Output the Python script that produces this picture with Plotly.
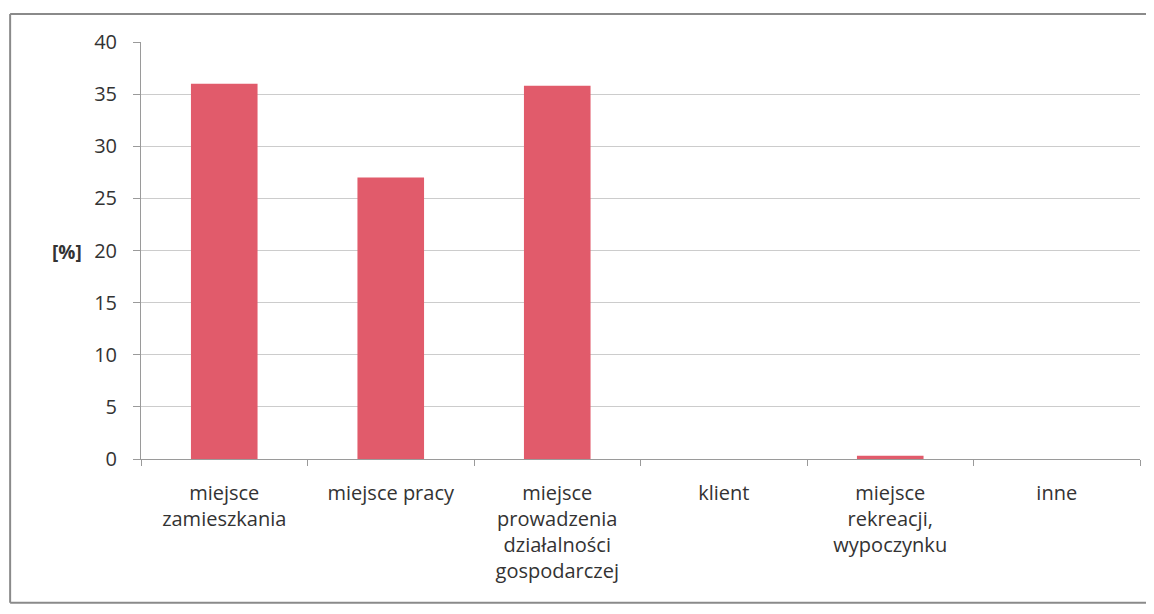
import plotly.graph_objects as go

# kategorie i wartosci [%]
categories = ["miejsce<br>zamieszkania", "miejsce pracy",
              "miejsce<br>prowadzenia<br>działalności<br>gospodarczej",
              "klient", "miejsce<br>rekreacji,<br>wypoczynku", "inne"]
values = [36.0, 27.0, 35.8, 0.0, 0.3, 0.0]
y_ticks = [0, 5, 10, 15, 20, 25, 30, 35, 40]

fig = go.Figure()

fig.add_trace(go.Bar(x=categories, y=values, width=0.4,
                     marker=dict(color="#E15B6B", line=dict(width=0))))

# strona ma 8px marginesu, wiec figura jest odpowiednio mniejsza
fig.update_layout(
    width=1146, height=598,
    margin=dict(l=133, r=14, t=34, b=147),
    paper_bgcolor="white", plot_bgcolor="white",
    font=dict(family="Open Sans, sans-serif", size=20, color="#333333"),
    showlegend=False,
    bargap=0.6,
)

fig.update_xaxes(
    showline=True, linecolor="#9a9a9a", linewidth=1,
    ticks="outside", tickson="boundaries", ticklen=6, tickcolor="#9a9a9a",
    showgrid=False, ticklabelstandoff=16,
)
fig.update_yaxes(
    range=[0, 40], tickvals=y_ticks,
    showline=True, linecolor="#9a9a9a", linewidth=1,
    ticks="outside", ticklen=7, tickcolor="#9a9a9a",
    showgrid=True, gridcolor="#cccccc", gridwidth=1,
    zeroline=False, ticklabelstandoff=12,
)

fig.add_annotation(text="<b>[%]</b>", xref="paper", yref="paper",
                   x=-0.091, y=0.496, showarrow=False,
                   font=dict(size=19, color="#333333"))

# ramka wykresu (prawa krawedz poza kadrem)
frame = dict(color="#8a8a8a", width=2)
fig.add_shape(type="line", xref="paper", yref="paper",
              x0=-0.131, x1=1.2, y0=1.067, y1=1.067, line=frame)
fig.add_shape(type="line", xref="paper", yref="paper",
              x0=-0.131, x1=-0.131, y0=-0.345, y1=1.067, line=frame)
fig.add_shape(type="line", xref="paper", yref="paper",
              x0=-0.131, x1=1.2, y0=-0.345, y1=-0.345, line=frame)

fig.write_html("out.html")
